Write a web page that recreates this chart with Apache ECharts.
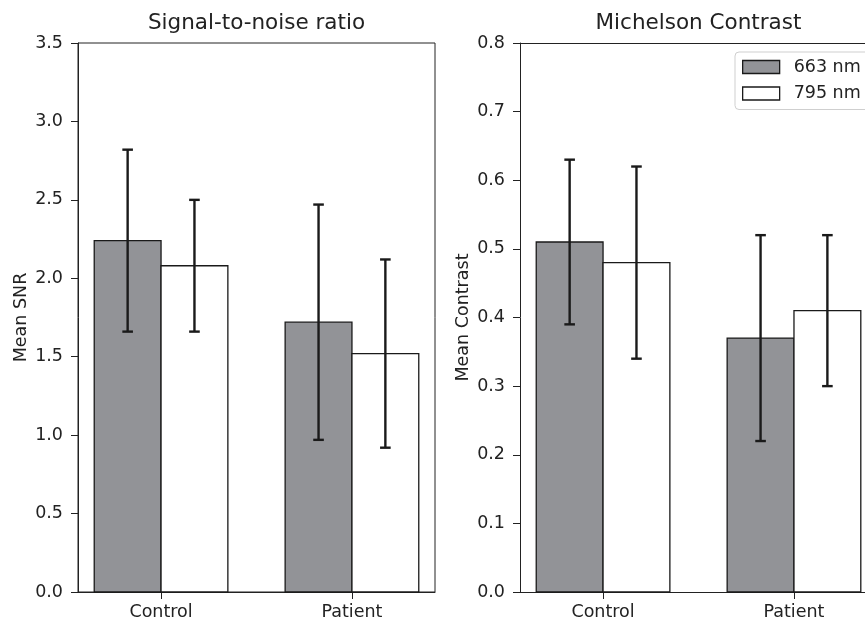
<!DOCTYPE html>
<html>
<head>
<meta charset="utf-8">
<script src="https://cdn.jsdelivr.net/npm/echarts@6/dist/echarts.min.js"></script>
<style>html,body{margin:0;padding:0;background:#fff}#c{width:865px;height:620px}</style>
</head>
<body>
<div id="c"></div>
<script>
var categories = ['Control', 'Patient'];
var seriesNames = ['663 nm', '795 nm'];
var snr663 = [2.24, 1.72];
var snr663Err = [0.58, 0.75];
var snr795 = [2.08, 1.52];
var snr795Err = [0.42, 0.60];
var con663 = [0.51, 0.37];
var con663Err = [0.12, 0.15];
var con795 = [0.48, 0.41];
var con795Err = [0.14, 0.11];
var snrTicks = { min: 0, max: 3.5, interval: 0.5 };
var conTicks = { min: 0, max: 0.8, interval: 0.1 };

var FONT = 'DejaVu Sans';
var TXT = '#222';
var EDGE = '#1a1a1a';
var GRAY = '#929397';
var BW = 0.35;

function rows(vals, errs) {
  return vals.map(function (v, i) { return [i, v, errs[i]]; });
}

function makeRender(offset) {
  return function (params, api) {
    var c = api.value(0) + offset;
    var v = api.value(1);
    var e = api.value(2);
    var tl = api.coord([c - BW / 2, v]);
    var br = api.coord([c + BW / 2, 0]);
    var top = api.coord([c, v + e]);
    var bot = api.coord([c, v - e]);
    var cap = 5.3;
    var st = api.style();
    return {
      type: 'group',
      children: [
        { type: 'rect', shape: { x: tl[0], y: tl[1], width: br[0] - tl[0], height: br[1] - tl[1] },
          style: { fill: st.fill, stroke: EDGE, lineWidth: 1.3 } },
        { type: 'line', shape: { x1: top[0], y1: top[1], x2: bot[0], y2: bot[1] },
          style: { stroke: EDGE, lineWidth: 2.4 } },
        { type: 'line', shape: { x1: top[0] - cap, y1: top[1], x2: top[0] + cap, y2: top[1] },
          style: { stroke: EDGE, lineWidth: 2.4 } },
        { type: 'line', shape: { x1: bot[0] - cap, y1: bot[1], x2: bot[0] + cap, y2: bot[1] },
          style: { stroke: EDGE, lineWidth: 2.4 } }
      ]
    };
  };
}

function xAxis(gi, max) {
  return {
    type: 'value', gridIndex: gi, min: -0.435, max: max,
    axisLine: { show: true, onZero: false, lineStyle: { color: TXT, width: 1 } },
    axisTick: { show: true, customValues: [0, 1], length: 7, lineStyle: { color: TXT, width: 1 } },
    axisLabel: { customValues: [0, 1], formatter: function (v) { return categories[Math.round(v)]; },
      margin: 11, color: TXT, fontFamily: FONT, fontSize: 17.5 },
    splitLine: { show: false }
  };
}

function topSpine(gi, max) {
  return {
    type: 'value', gridIndex: gi, position: 'top', min: -0.435, max: max,
    axisLine: { show: true, onZero: false, lineStyle: { color: TXT, width: 1 } },
    axisTick: { show: false }, axisLabel: { show: false }, splitLine: { show: false }
  };
}

function yAxis(gi, t, name) {
  return {
    type: 'value', gridIndex: gi, min: t.min, max: t.max, interval: t.interval,
    name: name, nameLocation: 'middle', nameGap: 48,
    nameTextStyle: { color: TXT, fontFamily: FONT, fontSize: 17.5 },
    axisLine: { show: true, onZero: false, lineStyle: { color: TXT, width: 1 } },
    axisTick: { show: true, length: 7, lineStyle: { color: TXT, width: 1 } },
    axisLabel: { formatter: function (v) { return v.toFixed(1); }, margin: 15,
      color: TXT, fontFamily: FONT, fontSize: 17.5 },
    splitLine: { show: false }
  };
}

var chart = echarts.init(document.getElementById('c'), null, { renderer: 'canvas' });
chart.setOption({
  backgroundColor: '#fff',
  animation: false,
  title: [
    { text: 'Signal-to-noise ratio', left: 256.5, top: 12, textAlign: 'center', padding: 0,
      textStyle: { color: TXT, fontFamily: FONT, fontSize: 21.5, fontWeight: 'normal' } },
    { text: 'Michelson Contrast', left: 698.5, top: 12, textAlign: 'center', padding: 0,
      textStyle: { color: TXT, fontFamily: FONT, fontSize: 21.5, fontWeight: 'normal' } }
  ],
  grid: [
    { left: 78, top: 43, width: 357, height: 549, outerBoundsMode: 'none', containLabel: false,
      show: true, borderColor: TXT, borderWidth: 1, backgroundColor: 'transparent' },
    { left: 520, top: 43, right: 0, height: 549, outerBoundsMode: 'none', containLabel: false, show: false }
  ],
  xAxis: [xAxis(0, 1.435), xAxis(1, 1.372), topSpine(1, 1.372)],
  yAxis: [yAxis(0, snrTicks, 'Mean SNR'), yAxis(1, conTicks, 'Mean Contrast')],
  legend: {
    left: 735, top: 52, orient: 'vertical',
    padding: [6, 40, 7, 7],
    itemWidth: 37, itemHeight: 13, itemGap: 8.5,
    backgroundColor: '#fff', borderColor: '#cfcfcf', borderWidth: 1, borderRadius: 4,
    textStyle: { color: TXT, fontFamily: FONT, fontSize: 17.5, padding: [0, 0, 0, 9] },
    data: [
      { name: seriesNames[0], icon: 'rect', itemStyle: { color: GRAY, borderColor: EDGE, borderWidth: 1.3 } },
      { name: seriesNames[1], icon: 'rect', itemStyle: { color: '#fff', borderColor: EDGE, borderWidth: 1.3 } }
    ]
  },
  series: [
    { type: 'custom', name: seriesNames[0], xAxisIndex: 0, yAxisIndex: 0, renderItem: makeRender(-BW / 2),
      itemStyle: { color: GRAY }, data: rows(snr663, snr663Err), z: 2 },
    { type: 'custom', name: seriesNames[1], xAxisIndex: 0, yAxisIndex: 0, renderItem: makeRender(BW / 2),
      itemStyle: { color: '#fff' }, data: rows(snr795, snr795Err), z: 3 },
    { type: 'custom', name: seriesNames[0], xAxisIndex: 1, yAxisIndex: 1, renderItem: makeRender(-BW / 2),
      itemStyle: { color: GRAY }, data: rows(con663, con663Err), z: 2 },
    { type: 'custom', name: seriesNames[1], xAxisIndex: 1, yAxisIndex: 1, renderItem: makeRender(BW / 2),
      itemStyle: { color: '#fff' }, data: rows(con795, con795Err), z: 3 }
  ]
});
</script>
</body>
</html>
